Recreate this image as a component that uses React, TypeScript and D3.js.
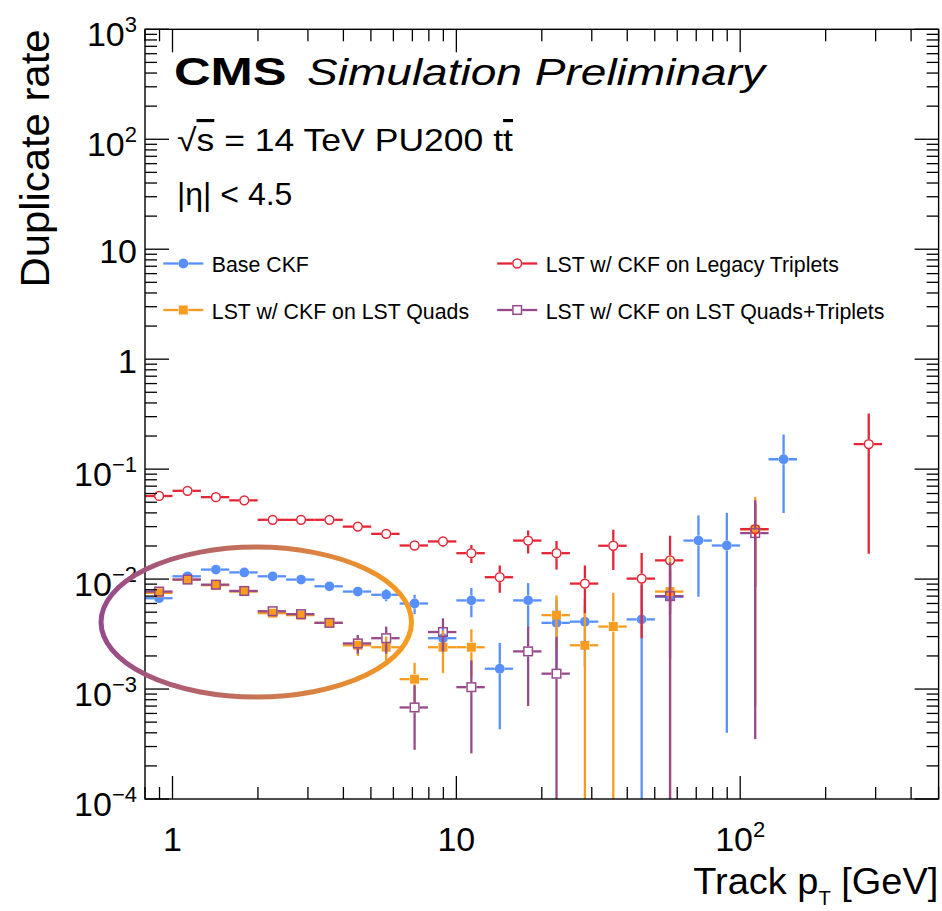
import React from "react";
import * as d3 from "d3";

// ---------- data ----------
// pT bin edges (GeV), 10 log bins per decade
const binEdges = [
  0.794, 1.0, 1.259, 1.585, 1.995, 2.512, 3.162, 3.981, 5.012, 6.31, 7.943,
  10.0, 12.59, 15.85, 19.95, 25.12, 31.62, 39.81, 50.12, 63.1, 79.43,
  100.0, 125.9, 158.5, 199.5, 251.2, 316.2, 398.1, 501.2,
];

const seriesNames = [
  "Base CKF",
  "LST w/ CKF on Legacy Triplets",
  "LST w/ CKF on LST Quads",
  "LST w/ CKF on LST Quads+Triplets",
];

const baseCKF = [
  0.0067, 0.0106, 0.0122, 0.0115, 0.0106, 0.0099, 0.0086, 0.0077, 0.0072, 0.006,
  0.0029, 0.0064, 0.00153, 0.0064, 0.004, 0.0041, null, 0.0043, 0.0069, 0.0224,
  0.0202, null, 0.123, null, null, null, null, null,
];
const baseCKFErr = [
  0.0003, 0.0003, 0.0003, 0.0003, 0.0003, 0.0003, 0.0004, 0.0005, 0.0009, 0.0012,
  0.0008, 0.0019, 0.0011, 0.0028, 0.0025, 0.0025, 0, 0.0045, 0.005, 0.0155,
  0.0198, 0, 0.083, 0, 0, 0, 0, 0,
];

const legacyTriplets = [
  0.057, 0.0635, 0.0556, 0.052, 0.0346, 0.0346, 0.0346, 0.03, 0.0258, 0.0202,
  0.022, 0.0172, 0.0104, 0.0224, 0.0172, 0.0091, 0.0201, 0.0101, 0.0148, null,
  null, 0.0285, null, null, null, 0.169, null, null,
];
const legacyTripletsErr = [
  0.001, 0.001, 0.001, 0.001, 0.0008, 0.0008, 0.0008, 0.0009, 0.001, 0.0012,
  0.0025, 0.0032, 0.0029, 0.0053, 0.005, 0.0042, 0.008, 0.0072, 0.01, 0,
  0, 0.02, 0, 0, 0, 0.152, 0, 0,
];

const lstQuads = [
  0.0075, 0.0099, 0.0088, 0.0077, 0.0049, 0.0047, 0.004, 0.0025, 0.0024, 0.00123,
  0.0024, 0.0024, null, null, 0.0047, 0.0025, 0.0037, null, 0.0077, null,
  null, 0.0283, null, null, null, null, null, null,
];
const lstQuadsErr = [
  0.0003, 0.0003, 0.0003, 0.0003, 0.0003, 0.0003, 0.0003, 0.0005, 0.0006, 0.0005,
  0.001, 0.0011, 0, 0, 0.0024, 0.0032, 0.0038, 0, 0.008, 0,
  0, 0.0276, 0, 0, 0, 0, 0, 0,
];

const lstQuadsTriplets = [
  0.0077, 0.0099, 0.0089, 0.0078, 0.0051, 0.0048, 0.004, 0.0026, 0.0029, 0.00068,
  0.0033, 0.00104, null, 0.0022, 0.00138, null, null, null, 0.007, null,
  null, 0.0262, null, null, null, null, null, null,
];
const lstQuadsTripletsErr = [
  0.0003, 0.0003, 0.0003, 0.0003, 0.0003, 0.0003, 0.0003, 0.0005, 0.0008, 0.0004,
  0.0011, 0.00078, 0, 0.0015, 0.0016, 0, 0, 0, 0.0072, 0,
  0, 0.02585, 0, 0, 0, 0, 0, 0,
];

const yMajorTicks = [1e-4, 1e-3, 1e-2, 1e-1, 1, 10, 100, 1000];
const yExponents = [-4, -3, -2, -1, 0, 1, 2, 3];
const xMajorTicks = [1, 10, 100];
const xExponents = [0, 1, 2];

// annotation ellipse (data coordinates of its bounding box)
const ellipseX = [0.56, 6.95];
const ellipseY = [0.000846, 0.01954];

// ---------- layout ----------
const W = 942;
const H = 911;
const PL = 145;
const PR = 938.6;
const PT = 29.3;
const PB = 799;
const FONT = "'Liberation Sans', Arial, Helvetica, sans-serif";

const COLORS = {
  blue: "#5790fc",
  red: "#e42536",
  orange: "#f89c20",
  purple: "#964a8b",
};

type Series = {
  name: string;
  color: string;
  marker: "circle" | "square" | "ocircle" | "osquare";
  values: (number | null)[];
  errs: number[];
};

const series: Series[] = [
  { name: seriesNames[0], color: COLORS.blue, marker: "circle", values: baseCKF, errs: baseCKFErr },
  { name: seriesNames[2], color: COLORS.orange, marker: "square", values: lstQuads, errs: lstQuadsErr },
  { name: seriesNames[1], color: COLORS.red, marker: "ocircle", values: legacyTriplets, errs: legacyTripletsErr },
  { name: seriesNames[3], color: COLORS.purple, marker: "osquare", values: lstQuadsTriplets, errs: lstQuadsTripletsErr },
];

function Marker({ type, cx, cy, color }: { type: string; cx: number; cy: number; color: string }) {
  if (type === "circle") return <circle cx={cx} cy={cy} r={4.9} fill={color} />;
  if (type === "square") return <rect x={cx - 4.5} y={cy - 4.5} width={9} height={9} fill={color} />;
  if (type === "ocircle")
    return <circle cx={cx} cy={cy} r={4.4} fill="none" stroke={color} strokeWidth={1.5} />;
  return <rect x={cx - 4.3} y={cy - 4.3} width={8.6} height={8.6} fill="none" stroke={color} strokeWidth={1.5} />;
}

export default function App() {
  const x = d3.scaleLog().domain([0.8, 500]).range([PL, PR]);
  const y = d3.scaleLog().domain([1e-4, 1e3]).range([PB, PT]);

  // minor ticks
  const xMinor: number[] = [];
  [0.1, 1, 10, 100].forEach((d) => {
    for (let k = 2; k <= 9; k++) {
      const v = d * k;
      if (v >= 0.8 && v <= 500 && !xMajorTicks.includes(v)) xMinor.push(v);
    }
  });
  const yMinor: number[] = [];
  yMajorTicks.slice(0, -1).forEach((d) => {
    for (let k = 2; k <= 9; k++) yMinor.push(d * k);
  });

  const gap = 5;
  const sw = 2.3;

  const renderSeries = (s: Series, si: number) => {
    const els: React.ReactNode[] = [];
    s.values.forEach((v, i) => {
      if (v == null) return;
      const lo = binEdges[i];
      const hi = binEdges[i + 1];
      const xc = x((lo + hi) / 2);
      const yc = y(v);
      const e = s.errs[i] || 0;
      const yTop = y(v + e);
      const yBot = v - e > 1e-4 ? y(v - e) : PB;
      const xl = Math.max(x(lo), PL);
      const xr = Math.min(x(hi), PR);
      const k = `${si}-${i}`;
      if (xc - gap > xl)
        els.push(<line key={k + "hl"} x1={xl} x2={xc - gap} y1={yc} y2={yc} stroke={s.color} strokeWidth={sw} />);
      if (xr > xc + gap)
        els.push(<line key={k + "hr"} x1={xc + gap} x2={xr} y1={yc} y2={yc} stroke={s.color} strokeWidth={sw} />);
      if (yc - gap > yTop)
        els.push(<line key={k + "vt"} x1={xc} x2={xc} y1={yTop} y2={yc - gap} stroke={s.color} strokeWidth={sw} />);
      if (yBot > yc + gap)
        els.push(<line key={k + "vb"} x1={xc} x2={xc} y1={yc + gap} y2={yBot} stroke={s.color} strokeWidth={sw} />);
      els.push(<Marker key={k + "m"} type={s.marker} cx={xc} cy={yc} color={s.color} />);
    });
    return <g key={s.name}>{els}</g>;
  };

  const legendItems = [
    { s: series[0], lx: 183.3, ly: 263.5 },
    { s: series[2], lx: 517.2, ly: 263.5 },
    { s: series[1], lx: 183.3, ly: 310 },
    { s: series[3], lx: 517.2, ly: 310 },
  ];

  const ex0 = x(ellipseX[0]);
  const ex1 = x(ellipseX[1]);
  const ey0 = y(ellipseY[1]);
  const ey1 = y(ellipseY[0]);

  const tickStroke = "#000";
  const tw = 1.3;

  return (
    <svg
      width={W}
      height={H}
      style={{ position: "absolute", left: 0, top: 0, background: "#fff" }}
      fontFamily={FONT}
    >
      <defs>
        <clipPath id="plotclip">
          <rect x={PL} y={PT} width={PR - PL} height={PB - PT} />
        </clipPath>
        <linearGradient id="ellgrad" gradientUnits="userSpaceOnUse" x1={ex0} y1={0} x2={ex1} y2={0}>
          <stop offset="0%" stopColor="#964a8b" />
          <stop offset="100%" stopColor="#f89c20" />
        </linearGradient>
      </defs>
      <rect x={0} y={0} width={W} height={H} fill="#fff" />

      {/* data */}
      <g clipPath="url(#plotclip)">{series.map(renderSeries)}</g>

      {/* frame */}
      <rect x={PL} y={PT} width={PR - PL} height={PB - PT} fill="none" stroke="#000" strokeWidth={1.4} />

      {/* x ticks */}
      {xMajorTicks.map((t) => (
        <g key={"xM" + t}>
          <line x1={x(t)} x2={x(t)} y1={PB} y2={PB - 23} stroke={tickStroke} strokeWidth={tw} />
          <line x1={x(t)} x2={x(t)} y1={PT} y2={PT + 23} stroke={tickStroke} strokeWidth={tw} />
        </g>
      ))}
      {xMinor.map((t) => (
        <g key={"xm" + t}>
          <line x1={x(t)} x2={x(t)} y1={PB} y2={PB - 12} stroke={tickStroke} strokeWidth={tw} />
          <line x1={x(t)} x2={x(t)} y1={PT} y2={PT + 12} stroke={tickStroke} strokeWidth={tw} />
        </g>
      ))}
      {/* y ticks */}
      {yMajorTicks.map((t) => (
        <g key={"yM" + t}>
          <line x1={PL} x2={PL + 24} y1={y(t)} y2={y(t)} stroke={tickStroke} strokeWidth={tw} />
          <line x1={PR} x2={PR - 24} y1={y(t)} y2={y(t)} stroke={tickStroke} strokeWidth={tw} />
        </g>
      ))}
      {yMinor.map((t) => (
        <g key={"ym" + t}>
          <line x1={PL} x2={PL + 12} y1={y(t)} y2={y(t)} stroke={tickStroke} strokeWidth={tw} />
          <line x1={PR} x2={PR - 12} y1={y(t)} y2={y(t)} stroke={tickStroke} strokeWidth={tw} />
        </g>
      ))}

      {/* y tick labels */}
      {yMajorTicks.map((t, i) => {
        const ex = yExponents[i];
        if (ex === 0 || ex === 1)
          return (
            <text key={"yl" + t} x={PL - 8} y={y(t) + 13.5} fontSize={34} textAnchor="end">
              {ex === 0 ? "1" : "10"}
            </text>
          );
        return (
          <text key={"yl" + t} x={PL - 8} y={y(t) + 17} fontSize={34} textAnchor="end">
            10
            <tspan fontSize={22} dy={-14}>
              {ex < 0 ? "\u2212" + Math.abs(ex) : String(ex)}
            </tspan>
          </text>
        );
      })}

      {/* x tick labels */}
      {xMajorTicks.map((t, i) => {
        const ex = xExponents[i];
        if (ex === 0 || ex === 1)
          return (
            <text key={"xl" + t} x={x(t)} y={851} fontSize={34} textAnchor="middle">
              {ex === 0 ? "1" : "10"}
            </text>
          );
        return (
          <text key={"xl" + t} x={x(t)} y={851} fontSize={34} textAnchor="middle">
            10
            <tspan fontSize={22} dy={-14}>
              {String(ex)}
            </tspan>
          </text>
        );
      })}

      {/* axis titles */}
      <text x={938.3} y={894} fontSize={37.5} textAnchor="end" textLength={245} lengthAdjust="spacingAndGlyphs">
        Track p
        <tspan fontSize={20} dy={11}>
          T
        </tspan>
        <tspan dy={-11}> [GeV]</tspan>
      </text>
      <text transform="translate(49,29.5) rotate(-90)" fontSize={40} textAnchor="end" textLength={258} lengthAdjust="spacingAndGlyphs">
        Duplicate rate
      </text>

      {/* CMS header */}
      <text x={174} y={85} fontSize={39.5} fontWeight="bold" textLength={112.7} lengthAdjust="spacingAndGlyphs">
        CMS
      </text>
      <text x={307} y={85} fontSize={37} fontStyle="italic" textLength={458} lengthAdjust="spacingAndGlyphs">
        Simulation Preliminary
      </text>
      <text x={177} y={151} fontSize={31.5} textLength={336} lengthAdjust="spacingAndGlyphs">
        {"\u221A"}
        <tspan style={{ textDecoration: "overline" }}>s</tspan>
        {" = 14 TeV PU200 t"}
        <tspan style={{ textDecoration: "overline" }}>t</tspan>
      </text>
      <text x={177} y={205} fontSize={32}>
        |{"\u03B7"}| &lt; 4.5
      </text>

      {/* legend */}
      {legendItems.map(({ s, lx, ly }) => (
        <g key={"lg" + s.name}>
          <line x1={lx - 20} x2={lx - gap} y1={ly} y2={ly} stroke={s.color} strokeWidth={sw} />
          <line x1={lx + gap} x2={lx + 20} y1={ly} y2={ly} stroke={s.color} strokeWidth={sw} />
          <Marker type={s.marker} cx={lx} cy={ly} color={s.color} />
          <text x={lx + 28.5} y={ly + 8.8} fontSize={21.3}>
            {s.name}
          </text>
        </g>
      ))}

      {/* annotation ellipse */}
      <ellipse
        cx={(ex0 + ex1) / 2}
        cy={(ey0 + ey1) / 2}
        rx={(ex1 - ex0) / 2}
        ry={(ey1 - ey0) / 2}
        fill="none"
        stroke="url(#ellgrad)"
        strokeWidth={5}
      />
    </svg>
  );
}
